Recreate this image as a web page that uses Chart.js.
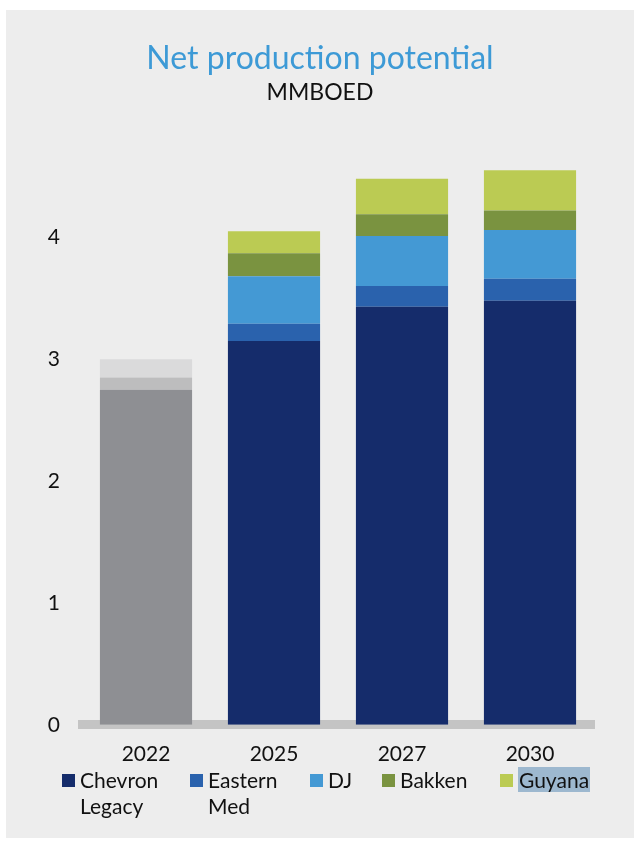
<!DOCTYPE html>
<html>
<head>
<meta charset="utf-8">
<script src="https://cdn.jsdelivr.net/npm/chart.js@4.4.1/dist/chart.umd.min.js"></script>
<style>
  html, body { margin: 0; padding: 0; background: #ffffff; }
  body { width: 640px; height: 845px; position: relative; overflow: hidden; font-family: Lato, "Open Sans", sans-serif; }
  #panel { position: absolute; left: 6px; top: 10px; width: 628px; height: 828px; background: #ededed; }
  #wrap { position: absolute; left: 0; top: 0; width: 640px; height: 845px; }
  #legend { position: absolute; left: 0; top: 767px; width: 640px; height: 60px; font-size: 21px; color: #111; }
  .item { position: absolute; top: 0; }
  .sw { position: absolute; left: 0; top: 7px; width: 13px; height: 13px; }
  .lbl { position: absolute; left: 18px; top: 0; line-height: 26px; white-space: pre; }
  .hl { background: #9db8cf; padding: 0 1px; }
</style>
</head>
<body>
<div id="panel"></div>
<div id="wrap"><canvas id="c" width="640" height="845"></canvas></div>
<div id="legend"></div>
<script>
const categories = ['2022', '2025', '2027', '2030'];
const chevronLegacy = [null, 3.15, 3.43, 3.48];
const easternMed = [null, 0.14, 0.17, 0.18];
const dj = [null, 0.39, 0.41, 0.40];
const bakken = [null, 0.19, 0.18, 0.16];
const guyana = [null, 0.18, 0.29, 0.33];
const base2022 = [2.75, null, null, null];
const mid2022 = [0.10, null, null, null];
const top2022 = [0.15, null, null, null];
const yTicks = [0, 1, 2, 3, 4];

const legendSeries = ['Chevron\nLegacy', 'Eastern\nMed', 'DJ', 'Bakken', 'Guyana'];

const barOpts = { stack: 's', barPercentage: 0.72, categoryPercentage: 1.0, borderWidth: 0 };

const chart = new Chart(document.getElementById('c'), {
  type: 'bar',
  data: {
    labels: categories,
    datasets: [
      Object.assign({ label: '2022 base', data: base2022, backgroundColor: '#8e8f93', inLegend: false }, barOpts),
      Object.assign({ label: '2022 mid', data: mid2022, backgroundColor: '#bdbdbe', inLegend: false }, barOpts),
      Object.assign({ label: '2022 top', data: top2022, backgroundColor: '#dadadb', inLegend: false }, barOpts),
      Object.assign({ label: legendSeries[0], data: chevronLegacy, backgroundColor: '#152c6b', inLegend: true }, barOpts),
      Object.assign({ label: legendSeries[1], data: easternMed, backgroundColor: '#2a62ad', inLegend: true }, barOpts),
      Object.assign({ label: legendSeries[2], data: dj, backgroundColor: '#4499d4', inLegend: true }, barOpts),
      Object.assign({ label: legendSeries[3], data: bakken, backgroundColor: '#7a9340', inLegend: true }, barOpts),
      Object.assign({ label: legendSeries[4], data: guyana, backgroundColor: '#bbcb53', inLegend: true }, barOpts)
    ]
  },
  options: {
    responsive: false,
    animation: false,
    devicePixelRatio: 1,
    layout: { padding: { top: 30, left: 46, right: 46, bottom: 61 } },
    plugins: {
      legend: { display: false },
      tooltip: { enabled: false },
      title: {
        display: true,
        text: 'Net production potential',
        color: '#3d9ad6',
        font: { family: 'Lato', size: 32, weight: 'normal', lineHeight: 1.2 },
        padding: { top: 9, bottom: 0 }
      },
      subtitle: {
        display: true,
        text: 'MMBOED',
        color: '#111111',
        font: { family: 'Lato', size: 23, weight: 'normal', lineHeight: 1.2 },
        padding: { top: 1, bottom: 46 }
      }
    },
    scales: {
      x: {
        stacked: true,
        grid: { display: false, drawTicks: false },
        border: { display: true, color: '#c4c4c4', width: 9 },
        ticks: { color: '#111111', font: { family: 'Lato', size: 21 }, padding: 17 }
      },
      y: {
        stacked: true,
        min: 0,
        max: 4.7,
        grid: { display: false, drawTicks: false },
        border: { display: false },
        afterBuildTicks: (scale) => { scale.ticks = yTicks.map(v => ({ value: v })); },
        afterFit: (scale) => { scale.width = 36; },
        ticks: { color: '#111111', font: { family: 'Lato', size: 21 }, padding: 22 }
      }
    }
  }
});

// HTML legend built from chart datasets (multi-line labels)
const legendX = [62, 190, 310, 382, 500];
const legendEl = document.getElementById('legend');
chart.data.datasets.filter(d => d.inLegend).forEach((d, i) => {
  const item = document.createElement('div');
  item.className = 'item';
  item.style.left = legendX[i] + 'px';
  const sw = document.createElement('div');
  sw.className = 'sw';
  sw.style.background = d.backgroundColor;
  const lbl = document.createElement('div');
  lbl.className = 'lbl';
  if (d.label === 'Guyana') {
    const s = document.createElement('span');
    s.className = 'hl';
    s.textContent = d.label;
    lbl.appendChild(s);
  } else {
    lbl.textContent = d.label;
  }
  item.appendChild(sw);
  item.appendChild(lbl);
  legendEl.appendChild(item);
});
</script>
</body>
</html>
